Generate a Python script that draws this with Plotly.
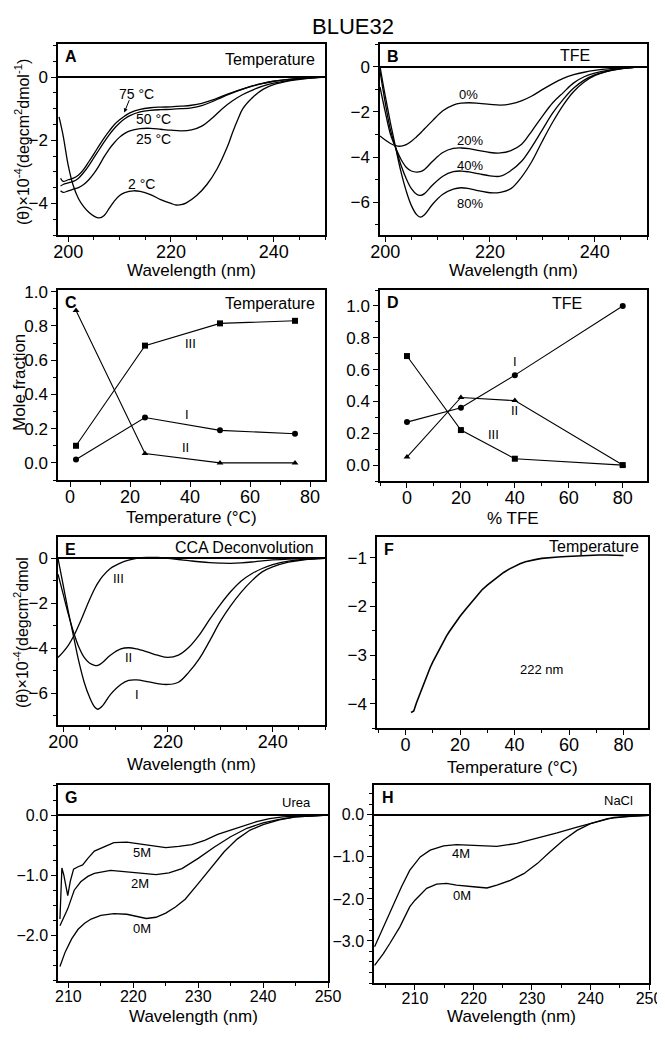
import plotly.graph_objects as go

# ---------------- DATA ----------------
# Panel A: temperature CD spectra
A_2C_wl = [198.2, 199, 200, 201, 202, 203, 204, 205, 206, 207, 208, 209, 210, 211, 212.7, 214, 216, 218, 220, 221, 222, 223, 225, 227, 229, 231, 232, 233, 234, 236, 238, 240, 243, 246, 250]
A_2C = [-1.26, -1.85, -2.8, -3.45, -3.85, -4.1, -4.28, -4.4, -4.46, -4.38, -4.15, -3.92, -3.75, -3.66, -3.6, -3.62, -3.72, -3.88, -4.0, -4.05, -4.04, -3.98, -3.75, -3.4, -2.9, -2.2, -1.75, -1.35, -1.0, -0.63, -0.38, -0.24, -0.12, -0.05, 0.0]
A_wl = [198.5, 199, 200, 201, 202, 203, 204, 205, 206, 207, 208, 209, 210, 211, 212, 214, 216, 218, 220, 222, 224, 226, 228, 230, 232, 234, 236, 238, 240, 243, 246, 250]
A_25C = [-3.6, -3.65, -3.6, -3.55, -3.5, -3.4, -3.25, -3.05, -2.8, -2.52, -2.27, -2.07, -1.9, -1.78, -1.7, -1.63, -1.62, -1.65, -1.68, -1.7, -1.67, -1.55, -1.3, -1.0, -0.75, -0.55, -0.4, -0.28, -0.19, -0.1, -0.04, 0.0]
A_50C = [-3.45, -3.4, -3.35, -3.3, -3.2, -3.02, -2.8, -2.55, -2.3, -2.05, -1.82, -1.62, -1.45, -1.32, -1.22, -1.1, -1.05, -1.03, -1.02, -1.0, -0.97, -0.9, -0.78, -0.63, -0.5, -0.38, -0.28, -0.2, -0.13, -0.07, -0.03, 0.0]
A_75C = [-3.2, -3.3, -3.25, -3.2, -3.1, -2.92, -2.68, -2.43, -2.17, -1.92, -1.7, -1.5, -1.35, -1.23, -1.13, -1.02, -0.97, -0.95, -0.94, -0.92, -0.89, -0.83, -0.73, -0.6, -0.48, -0.37, -0.27, -0.19, -0.13, -0.07, -0.03, 0.0]

# Panel B: TFE CD spectra
B_wl = [199, 200, 201, 202, 203, 204, 205, 206, 206.7, 207.5, 209, 211, 213, 214.5, 216, 218, 220, 222, 224, 226, 228, 230, 232, 234, 236, 238, 240, 243, 246, 250]
B_0 = [-3.07, -3.25, -3.4, -3.5, -3.52, -3.45, -3.3, -3.1, -2.95, -2.75, -2.4, -1.95, -1.7, -1.62, -1.6, -1.63, -1.67, -1.7, -1.65, -1.52, -1.3, -1.02, -0.75, -0.52, -0.36, -0.25, -0.17, -0.09, -0.04, 0.0]
B_20 = [-0.9, -2.0, -3.0, -3.6, -4.1, -4.45, -4.62, -4.67, -4.65, -4.55, -4.2, -3.8, -3.62, -3.6, -3.63, -3.72, -3.8, -3.82, -3.72, -3.45, -2.85, -2.2, -1.6, -1.15, -0.72, -0.45, -0.29, -0.14, -0.06, 0.0]
B_40 = [-0.2, -1.6, -2.8, -3.6, -4.35, -4.95, -5.4, -5.65, -5.7, -5.62, -5.25, -4.85, -4.65, -4.62, -4.66, -4.75, -4.83, -4.85, -4.6, -4.2, -3.55, -2.8, -2.05, -1.45, -0.95, -0.6, -0.37, -0.18, -0.07, 0.0]
B_80 = [0.0, -1.3, -2.5, -3.6, -4.65, -5.5, -6.15, -6.55, -6.66, -6.55, -6.1, -5.65, -5.42, -5.36, -5.4, -5.5, -5.58, -5.56, -5.4, -4.9, -4.2, -3.3, -2.45, -1.7, -1.1, -0.68, -0.4, -0.18, -0.07, 0.0]

# Panel C: mole fraction vs temperature
C_T = [2, 25, 50, 75]
C_I = [0.02, 0.265, 0.19, 0.17]
C_II = [0.89, 0.055, 0.0, 0.0]
C_III = [0.10, 0.685, 0.815, 0.83]

# Panel D: mole fraction vs % TFE
D_TFE = [0, 20, 40, 80]
D_I = [0.27, 0.36, 0.565, 1.0]
D_II = [0.05, 0.425, 0.405, 0.0]
D_III = [0.685, 0.22, 0.04, 0.0]

# Panel E: CCA deconvolution components
E_wl = [199, 200, 201, 202, 203, 204, 205, 206, 206.6, 207.5, 209, 211, 212.5, 214, 216, 218, 220, 222, 224, 226, 228, 230, 232, 234, 236, 238, 240, 243, 246, 250]
E_I = [0.0, -1.2, -2.4, -3.5, -4.6, -5.5, -6.15, -6.6, -6.7, -6.55, -6.05, -5.6, -5.42, -5.4, -5.47, -5.56, -5.6, -5.5, -5.05, -4.45, -3.65, -2.8, -2.1, -1.5, -1.0, -0.6, -0.38, -0.17, -0.06, 0.0]
E_II = [-0.7, -1.6, -2.5, -3.3, -3.95, -4.4, -4.65, -4.75, -4.75, -4.62, -4.3, -4.02, -3.97, -4.02, -4.15, -4.3, -4.4, -4.3, -3.95, -3.4, -2.7, -2.05, -1.47, -1.0, -0.68, -0.45, -0.28, -0.12, -0.04, 0.0]
E_III = [-4.4, -4.15, -3.85, -3.45, -2.95, -2.4, -1.85, -1.35, -1.1, -0.8, -0.45, -0.2, -0.08, 0.0, 0.04, 0.04, 0.0, -0.05, -0.1, -0.15, -0.19, -0.21, -0.22, -0.2, -0.16, -0.11, -0.07, -0.03, -0.01, 0.0]

# Panel F: thermal melt at 222 nm
F_T = [2.0, 3.0, 4, 5, 6, 7, 8, 9, 10, 11, 12, 13, 14, 15, 16, 18, 20, 22, 24, 26, 28, 30, 32, 34, 36, 38, 40, 42, 44, 46, 48, 50, 53, 56, 59, 62, 65, 68, 71, 74, 77, 80]
F_222 = [-4.18, -4.15, -3.98, -3.83, -3.68, -3.53, -3.39, -3.26, -3.14, -3.03, -2.92, -2.8, -2.7, -2.61, -2.52, -2.35, -2.2, -2.06, -1.93, -1.78, -1.66, -1.56, -1.47, -1.38, -1.3, -1.23, -1.17, -1.12, -1.08, -1.05, -1.03, -1.01, -0.99, -0.98, -0.97, -0.96, -0.95, -0.95, -0.94, -0.94, -0.95, -0.95]

# Panel G: urea
G0_wl = [208.7, 209.5, 210.5, 211.5, 212.5, 213.5, 215, 217, 219, 220.5, 222, 223.5, 225, 226.5, 228, 230, 232, 234, 236, 238, 240, 242.5, 245, 247.5, 250]
G_0M = [-2.52, -2.28, -2.06, -1.9, -1.8, -1.73, -1.67, -1.64, -1.65, -1.69, -1.72, -1.7, -1.63, -1.53, -1.4, -1.14, -0.88, -0.61, -0.4, -0.25, -0.16, -0.08, -0.03, -0.01, 0.0]
G2_wl = [208.7, 209.3, 209.9, 210.9, 211.9, 213, 214, 216.5, 219, 221.5, 223.5, 225.5, 227.5, 230, 232.5, 235, 237.5, 240, 242.5, 245, 250]
G_2M = [-1.84, -1.7, -1.56, -1.25, -1.11, -1.02, -0.97, -0.92, -0.94, -0.97, -0.99, -0.96, -0.89, -0.72, -0.53, -0.36, -0.22, -0.13, -0.07, -0.03, 0.0]
G5_wl = [208.7, 208.85, 209.0, 209.3, 209.6, 209.9, 210.3, 210.8, 211.5, 212.2, 213, 214, 215.5, 217, 219, 221, 223, 225, 227, 229, 231, 233, 235, 237, 239, 241, 243, 245, 250]
G_5M = [-1.73, -1.2, -0.88, -1.0, -1.2, -1.34, -1.1, -0.9, -0.86, -0.83, -0.72, -0.6, -0.53, -0.46, -0.45, -0.48, -0.51, -0.54, -0.52, -0.49, -0.42, -0.32, -0.25, -0.18, -0.11, -0.06, -0.03, -0.02, 0.0]

# Panel H: NaCl
H4_wl = [203.1, 204.6, 206.3, 207.7, 209.1, 210.9, 212.6, 214.9, 217.1, 220.6, 224.0, 227.4, 230.9, 234.3, 237.7, 241.1, 244.0, 250.0]
H_4M = [-3.14, -2.67, -2.11, -1.71, -1.32, -1.0, -0.84, -0.74, -0.71, -0.73, -0.75, -0.68, -0.56, -0.43, -0.29, -0.17, -0.06, -0.01]
H0_wl = [203.1, 204.6, 205.7, 207.4, 209.1, 210.0, 212.0, 213.7, 215.4, 217.1, 220.0, 222.3, 224.0, 226.3, 228.6, 230.9, 233.1, 235.4, 237.7, 240.0, 242.9, 246.9, 250.0]
H_0M = [-3.58, -3.3, -3.06, -2.67, -2.19, -2.03, -1.75, -1.65, -1.63, -1.67, -1.71, -1.74, -1.67, -1.56, -1.4, -1.16, -0.88, -0.6, -0.37, -0.21, -0.09, -0.03, -0.01]

# ---------------- FIGURE ----------------
# The page body has an 8px margin; positions below are window pixels,
# converted by subtracting that margin.
OFF = 8
W, H = 665 - OFF, 1041 - 2 * OFF - 4
FONT = "Liberation Sans, Arial, sans-serif"

def xp(p):
    return (p - OFF) / W

def yp(p):
    return 1 - (p - OFF) / H

def dx(a, b):
    return [xp(a), xp(b)]

def dy(top, bottom):
    return [yp(bottom), yp(top)]

fig = go.Figure()

def ids(k):
    s = "" if k == 1 else str(k)
    return "x" + s, "y" + s

def add_line(x, y, k, shape="spline", width=1.3):
    xa, ya = ids(k)
    fig.add_trace(go.Scatter(x=x, y=y, mode="lines", line=dict(color="black", width=width, shape=shape),
                             xaxis=xa, yaxis=ya, showlegend=False, hoverinfo="skip"))

def add_mk(x, y, k, sym):
    xa, ya = ids(k)
    fig.add_trace(go.Scatter(x=x, y=y, mode="lines+markers", line=dict(color="black", width=1.1),
                             marker=dict(symbol=sym, size=6, color="black"),
                             xaxis=xa, yaxis=ya, showlegend=False, hoverinfo="skip"))

# A
for y in [A_75C, A_50C, A_25C]:
    add_line(A_wl, y, 1)
add_line(A_2C_wl, A_2C, 1)
# B
for y in [B_0, B_20, B_40, B_80]:
    add_line(B_wl, y, 2)
# C
add_mk(C_T, C_III, 3, "square")
add_mk(C_T, C_I, 3, "circle")
add_mk(C_T, C_II, 3, "triangle-up")
# D
add_mk(D_TFE, D_I, 4, "circle")
add_mk(D_TFE, D_II, 4, "triangle-up")
add_mk(D_TFE, D_III, 4, "square")
# E
for y in [E_I, E_II, E_III]:
    add_line(E_wl, y, 5)
# F
add_line(F_T, F_222, 6, shape="linear", width=1.6)
# G
add_line(G0_wl, G_0M, 7, shape="linear")
add_line(G2_wl, G_2M, 7, shape="linear")
add_line(G5_wl, G_5M, 7, shape="linear")
# H
add_line(H4_wl, H_4M, 8, shape="linear")
add_line(H0_wl, H_0M, 8, shape="linear")

def ax(**kw):
    base = dict(showline=True, linecolor="black", linewidth=1.5, mirror=True,
                ticks="outside", ticklen=5, tickwidth=1.2, tickcolor="black",
                showgrid=False, zeroline=False, automargin=False,
                tickfont=dict(size=17, color="black", family=FONT))
    base.update(kw)
    return base

def xax(**kw):
    return ax(ticklabelstandoff=-5, ticklabeloverflow="allow", **kw)

minor = lambda d: dict(ticks="outside", ticklen=3, tickwidth=1, tickcolor="black", dtick=d, showgrid=False)
ZL = dict(zeroline=True, zerolinecolor="black", zerolinewidth=1.5)
xf18 = dict(size=18, color="black", family=FONT)
xf16 = dict(size=16, color="black", family=FONT)
f16 = dict(size=16, color="black", family=FONT)

# panel boxes in window pixels: left, right, top, bottom
BOX = {1: (58, 325, 44, 235), 2: (380, 647, 44, 235),
       3: (58, 325, 290, 480), 4: (380, 647, 290, 481),
       5: (58, 325, 537, 725), 6: (377, 648, 537, 728),
       7: (58, 328, 785, 981), 8: (374, 649, 785, 983)}

def xd(k):
    l, r, t, b = BOX[k]
    return dx(l, r)

def yd(k):
    l, r, t, b = BOX[k]
    return dy(t, b)

layout = dict(
    width=W, height=H, margin=dict(l=0, r=0, t=0, b=0, autoexpand=False),
    paper_bgcolor="white", plot_bgcolor="white", showlegend=False,
    font=dict(family=FONT, color="black"),
    xaxis=xax(domain=xd(1), range=[198, 250], tickvals=[200, 220, 240], minor=minor(5), tickfont=xf18, anchor="y"),
    yaxis=ax(domain=yd(1), range=[-5, 1.05], tickvals=[-4, -2, 0], minor=minor(0.5), anchor="x", **ZL),
    xaxis2=xax(domain=xd(2), range=[199, 250], tickvals=[200, 220, 240], minor=minor(5), tickfont=xf18, anchor="y2"),
    yaxis2=ax(domain=yd(2), range=[-7.45, 1.0], tickvals=[-6, -4, -2, 0], minor=minor(1), anchor="x2", **ZL),
    xaxis3=xax(domain=xd(3), range=[-4, 85], tickvals=[0, 20, 40, 60, 80], minor=minor(10), tickfont=xf18, anchor="y3"),
    yaxis3=ax(domain=yd(3), range=[-0.1, 1.01], tickvals=[0, 0.2, 0.4, 0.6, 0.8, 1.0], tickformat=".1f",
              minor=minor(0.1), anchor="x3"),
    xaxis4=xax(domain=xd(4), range=[-10, 89], tickvals=[0, 20, 40, 60, 80], minor=minor(10), tickfont=xf18, anchor="y4"),
    yaxis4=ax(domain=yd(4), range=[-0.1, 1.1], tickvals=[0, 0.2, 0.4, 0.6, 0.8, 1.0], tickformat=".1f",
              minor=minor(0.1), anchor="x4"),
    xaxis5=xax(domain=xd(5), range=[199, 250], tickvals=[200, 220, 240], minor=minor(5), tickfont=xf18, anchor="y5"),
    yaxis5=ax(domain=yd(5), range=[-7.4, 0.95], tickvals=[-6, -4, -2, 0], minor=minor(1), anchor="x5", **ZL),
    xaxis6=xax(domain=xd(6), range=[-10.5, 89], tickvals=[0, 20, 40, 60, 80], minor=minor(10), tickfont=xf18, anchor="y6"),
    yaxis6=ax(domain=yd(6), range=[-4.5, -0.57], tickvals=[-4, -3, -2, -1], minor=minor(0.5), anchor="x6"),
    xaxis7=xax(domain=xd(7), range=[208.4, 250], tickvals=[210, 220, 230, 240, 250], minor=minor(5), tickfont=xf16, anchor="y7"),
    yaxis7=ax(domain=yd(7), range=[-2.76, 0.5], tickvals=[-2, -1, 0], tickformat=".1f", minor=minor(0.25),
              tickfont=f16, anchor="x7", **ZL),
    xaxis8=xax(domain=xd(8), range=[203, 250], tickvals=[210, 220, 230, 240, 250], minor=minor(5), tickfont=xf16, anchor="y8"),
    yaxis8=ax(domain=yd(8), range=[-4.0, 0.71], tickvals=[-3, -2, -1, 0], tickformat=".1f", minor=minor(0.25),
              tickfont=f16, anchor="x8", **ZL),
)
fig.update_layout(**layout)

ann = []

def paper_text(px_x, px_y, text, size=17, angle=0):
    ann.append(dict(xref="paper", yref="paper", x=xp(px_x), y=yp(px_y), text=text, showarrow=False,
                    xanchor="center", yanchor="middle", textangle=angle,
                    font=dict(size=size, color="black", family=FONT)))

def dom_text(k, x, y, text, size=16, xanchor="left", bold=False):
    xa, ya = ids(k)
    ann.append(dict(xref=xa + " domain", yref=ya + " domain", x=x, y=y,
                    text=("<b>%s</b>" % text) if bold else text,
                    showarrow=False, xanchor=xanchor, yanchor="middle",
                    font=dict(size=size, color="black", family=FONT)))

def data_text(k, x, y, text, size=14):
    xa, ya = ids(k)
    ann.append(dict(xref=xa, yref=ya, x=x, y=y, text=text, showarrow=False,
                    font=dict(size=size, color="black", family=FONT)))

# axis titles (window pixel positions)
WL = "Wavelength (nm)"
YT = "(θ)×10<sup>-4</sup>(degcm<sup>2</sup>dmol<sup>-1</sup>)"
YT_E = "(θ)×10<sup>-4</sup>(degcm<sup>2</sup>dmol"
paper_text(191, 270, WL)
paper_text(513, 270, WL)
paper_text(191, 517, "Temperature (°C)")
paper_text(513, 518, "% TFE")
paper_text(191, 764, WL)
paper_text(512, 767, "Temperature (°C)")
paper_text(193, 1016, WL)
paper_text(511, 1016, WL)
paper_text(22, 142, YT, size=16, angle=-90)
paper_text(19, 383, "Mole fraction", size=17, angle=-90)
paper_text(21, 633, YT_E, size=16, angle=-90)

# panel letters & headers
for k, L in zip(range(1, 9), "ABCDEFGH"):
    l, r, t, b = BOX[k]
    dom_text(k, 0.02, 1 - 12 / (b - t), L, size=16, bold=True)

dom_text(1, 0.97, 1 - 15 / 191, "Temperature", xanchor="right")
dom_text(2, 0.73, 1 - 11 / 191, "TFE", xanchor="center")
dom_text(3, 0.97, 1 - 13 / 190, "Temperature", xanchor="right")
dom_text(4, 0.70, 1 - 13 / 191, "TFE", xanchor="center")
dom_text(5, 0.965, 1 - 10 / 188, "CCA Deconvolution", xanchor="right")
dom_text(6, 0.975, 1 - 9 / 191, "Temperature", xanchor="right")
dom_text(7, 0.945, 1 - 17 / 196, "Urea", size=13, xanchor="right")
dom_text(8, 0.95, 1 - 15 / 198, "NaCl", size=13, xanchor="right")

# A labels (arrow from "75 °C" to its curve)
ann.append(dict(xref="x", yref="y", x=210.9, y=-1.12, ax=212.0, ay=-0.68, axref="x", ayref="y",
                showarrow=True, arrowhead=2, arrowsize=0.8, arrowwidth=1, arrowcolor="black", text=""))
data_text(1, 213.3, -0.53, "75 °C")
data_text(1, 216.6, -1.32, "50 °C")
data_text(1, 216.6, -1.95, "25 °C")
data_text(1, 214.2, -3.37, "2 °C")
# B labels
data_text(2, 215.9, -1.23, "0%", 13)
data_text(2, 216.2, -3.29, "20%", 13)
data_text(2, 216.2, -4.37, "40%", 13)
data_text(2, 216.2, -6.06, "80%", 13)
# C labels
data_text(3, 40, 0.70, "III", 13)
data_text(3, 39, 0.285, "I", 13)
data_text(3, 38.5, 0.09, "II", 13)
# D labels
data_text(4, 40, 0.65, "I", 13)
data_text(4, 40, 0.34, "II", 13)
data_text(4, 32, 0.19, "III", 13)
# E labels
data_text(5, 210.6, -0.9, "III", 13)
data_text(5, 212.5, -4.4, "II", 13)
data_text(5, 214, -6.05, "I", 13)
# F label
data_text(6, 50, -3.3, "222 nm", 13)
# G labels
data_text(7, 221.3, -0.63, "5M", 13)
data_text(7, 221.0, -1.13, "2M", 13)
data_text(7, 221.3, -1.89, "0M", 13)
# H labels
data_text(8, 217.8, -0.92, "4M", 13)
data_text(8, 218.0, -1.91, "0M", 13)

# title
paper_text(353, 27, "BLUE32", size=22)

fig.update_layout(annotations=ann)
fig.write_html("out.html")
